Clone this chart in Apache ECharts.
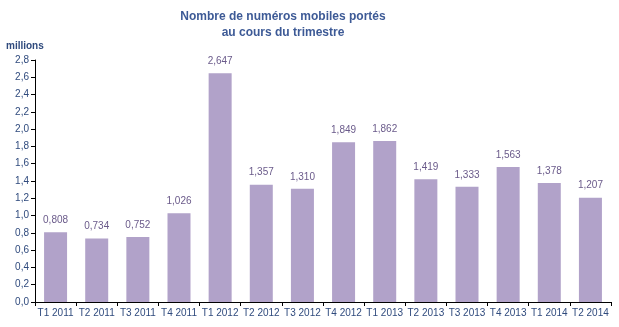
<!DOCTYPE html>
<html><head><meta charset="utf-8">
<script src="https://cdn.jsdelivr.net/npm/echarts@6/dist/echarts.min.js"></script>
<style>html,body{margin:0;padding:0;background:#fff}#c{width:619px;height:327px}</style>
</head><body><div id="c"></div>
<script>
const categories = ["T1 2011","T2 2011","T3 2011","T4 2011","T1 2012","T2 2012","T3 2012","T4 2012","T1 2013","T2 2013","T3 2013","T4 2013","T1 2014","T2 2014"];
const values = [0.808,0.734,0.752,1.026,2.647,1.357,1.310,1.849,1.862,1.419,1.333,1.563,1.378,1.207];
const chart = echarts.init(document.getElementById('c'));
const fmt = v => v.toFixed(1).replace('.', ',');
chart.setOption({
  animation: false,
  title: {
    text: 'Nombre de numéros mobiles portés\nau cours du trimestre',
    left: 278, top: 4, textAlign: 'center',
    textStyle: {fontFamily: 'Liberation Sans', fontSize: 12, fontWeight: 'bold', color: '#3d5a96', lineHeight: 16}
  },
  graphic: [{type:'text', left: 6, top: 41, style:{text:'millions', font:'bold 10px "Liberation Sans"', fill:'#2f4a7d'}}],
  grid: {left: 35, right: 8, top: 60, bottom: 25},
  xAxis: {
    type: 'category', data: categories,
    axisLine: {lineStyle: {color: '#000'}},
    axisTick: {show: true, alignWithLabel: false, length: 4, lineStyle: {color: '#000'}},
    axisLabel: {fontFamily: 'Liberation Sans', fontSize: 10, color: '#2f4a7d', margin: 6, interval: 0}
  },
  yAxis: {
    type: 'value', min: 0, max: 2.8, interval: 0.2,
    splitLine: {show: false},
    axisLine: {show: true, lineStyle: {color: '#000'}},
    axisTick: {show: true, length: 4, lineStyle: {color: '#000'}},
    axisLabel: {fontFamily: 'Liberation Sans', fontSize: 10, color: '#2f4a7d', margin: 6, formatter: fmt}
  },
  series: [{
    type: 'bar', data: values, barWidth: 23,
    itemStyle: {color: '#b1a2c9'},
    label: {show: true, position: 'top', distance: 7, fontFamily: 'Liberation Sans', fontSize: 10, color: '#6a5a8a',
      formatter: p => p.value.toFixed(3).replace('.', ',')}
  }]
});
</script></body></html>
